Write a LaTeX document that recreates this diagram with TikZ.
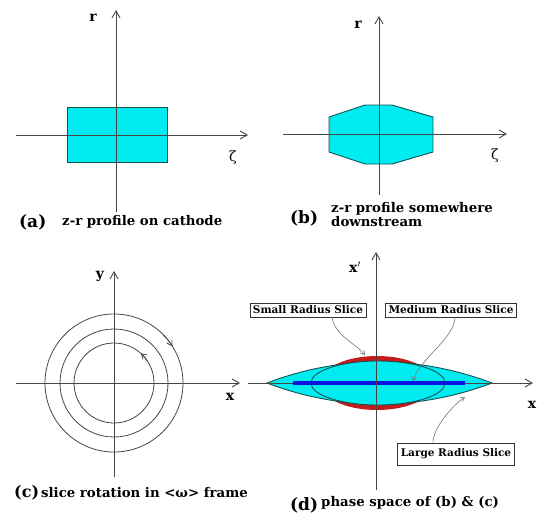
\documentclass[tikz,border=0pt]{standalone}
\usepackage{fontspec}
\setmainfont{DejaVu Serif}
\usetikzlibrary{arrows.meta}
\definecolor{beamcyan}{RGB}{0,236,240}
\definecolor{beamedge}{RGB}{20,80,80}
\definecolor{corered}{RGB}{196,28,28}
\definecolor{coreblue}{RGB}{10,20,225}
\definecolor{axisgray}{RGB}{70,70,70}
\tikzset{
  axis/.style={draw=axisgray, line width=0.9pt, -{Straight Barb[length=7pt, width=8pt]}},
  axislabel/.style={font=\bfseries\fontsize{14}{14}\selectfont, inner sep=0pt},
  profile/.style={fill=beamcyan, draw=beamedge, line width=0.9pt},
  tag/.style={font=\bfseries\fontsize{17}{17}\selectfont, inner sep=0pt, anchor=west},
  caption/.style={font=\bfseries\fontsize{13.3}{14}\selectfont, inner sep=0pt, anchor=west, align=left},
  orbit/.style={draw=axisgray, line width=0.8pt},
  spin/.style={draw=axisgray, line width=0.8pt, -{Straight Barb[length=5pt, width=6pt]}},
  slicebox/.style={draw=black!80, line width=0.8pt, fill=white, inner sep=3pt,
                   font=\bfseries\fontsize{10.5}{11}\selectfont},
  pointer/.style={draw=black!55, line width=0.6pt, -{Straight Barb[length=4pt, width=5pt]}},
}

\begin{document}
\begin{tikzpicture}[x=1pt, y=-1pt]
  \useasboundingbox (0,0) rectangle (540,520);

  % (a) profile on cathode
  \filldraw[profile] (67,107) rectangle (167,162);
  \coordinate (a-west) at (16,135);
  \coordinate (a-east) at (248,135);
  \coordinate (a-south) at (116,212);
  \coordinate (a-north) at (116,10);
  \draw[axis] (a-west) -- (a-east);
  \draw[axis] (a-south) -- (a-north);
  \node[axislabel] (a-r) at (93,18) {r};
  \node[axislabel, font=\fontsize{14}{14}\selectfont] (a-zeta) at (233,158) {ζ};
  \node[tag] (a-tag) at (19,222) {(a)};
  \node[caption] (a-cap) at (62,222) {z-r profile on cathode};

  % (b) profile downstream
  \filldraw[profile] (329,117) -- (365,105) -- (392,105) -- (433,117) -- (433,152)
    -- (392,164) -- (365,164) -- (329,152) -- cycle;
  \coordinate (b-west) at (283,134);
  \coordinate (b-east) at (507,134);
  \coordinate (b-south) at (379,195);
  \coordinate (b-north) at (379,16);
  \draw[axis] (b-west) -- (b-east);
  \draw[axis] (b-south) -- (b-north);
  \node[axislabel] (b-r) at (358,25) {r};
  \node[axislabel, font=\fontsize{14}{14}\selectfont] (b-zeta) at (495,156) {ζ};
  \node[tag] (b-tag) at (290,218) {(b)};
  \node[caption] (b-cap) at (331,215) {z-r profile somewhere\\downstream};

  % (c) slice rotation
  \coordinate (c-origin) at (114,383);
  \draw[orbit] (c-origin) circle[radius=69pt];
  \draw[orbit] (c-origin) circle[radius=54pt];
  \draw[orbit] (c-origin) circle[radius=40pt];
  \draw[spin] (c-origin) ++(44:69pt) arc[start angle=44, end angle=32, radius=69pt];
  \draw[spin] (c-origin) ++(34:40pt) arc[start angle=34, end angle=48, radius=40pt];
  \coordinate (c-west) at (16,383);
  \coordinate (c-east) at (240,383);
  \coordinate (c-south) at (114,477);
  \coordinate (c-north) at (114,271);
  \draw[axis] (c-west) -- (c-east);
  \draw[axis] (c-south) -- (c-north);
  \node[axislabel] (c-y) at (100,276) {y};
  \node[axislabel] (c-x) at (230,397) {x};
  \node[tag, font=\bfseries\fontsize{16}{16}\selectfont] (c-tag) at (14,493) {(c)};
  \node[caption] (c-cap) at (41,493) {slice rotation in <ω> frame};

  % (d) phase space
  \coordinate (d-origin) at (377,383);
  \fill[corered] (d-origin) ellipse[x radius=57pt, y radius=27pt];
  \filldraw[profile] (267,383) .. controls (340,355) and (418,355) .. (492,383)
    .. controls (418,411) and (340,411) .. cycle;
  \filldraw[profile] (378,383) ellipse[x radius=67pt, y radius=22pt];
  \coordinate (d-west) at (248,383);
  \coordinate (d-east) at (533,383);
  \coordinate (d-south) at (376,490);
  \coordinate (d-north) at (376,252);
  \draw[axis] (d-west) -- (d-east);
  \draw[coreblue, line width=4.5pt] (293,383) -- (465,383);
  \draw[axis] (d-south) -- (d-north);
  \node[axislabel] (d-xp) at (355,267) {x$'$};
  \node[axislabel] (d-x) at (532,405) {x};

  % slice labels
  \node[slicebox] (small) at (308,310) {Small Radius Slice};
  \node[slicebox] (medium) at (451,310) {Medium Radius Slice};
  \node[slicebox, minimum height=22pt] (large) at (456,454) {Large Radius Slice};
  \coordinate (small-tip) at (365,355);
  \coordinate (medium-tip) at (413,381);
  \coordinate (large-tip) at (465,397);
  \draw[pointer] ([xshift=24pt]small.south) .. controls +(3,18) and +(-10,-12) .. (small-tip);
  \draw[pointer] ([xshift=4pt]medium.south) .. controls +(0,20) and +(5,-20) .. (medium-tip);
  \draw[pointer] ([xshift=-23pt]large.north) .. controls +(0,-15) and +(-12,8) .. (large-tip);

  \node[tag] (d-tag) at (290,505) {(d)};
  \node[caption] (d-cap) at (321,503) {phase space of (b) \& (c)};
\end{tikzpicture}
\end{document}
